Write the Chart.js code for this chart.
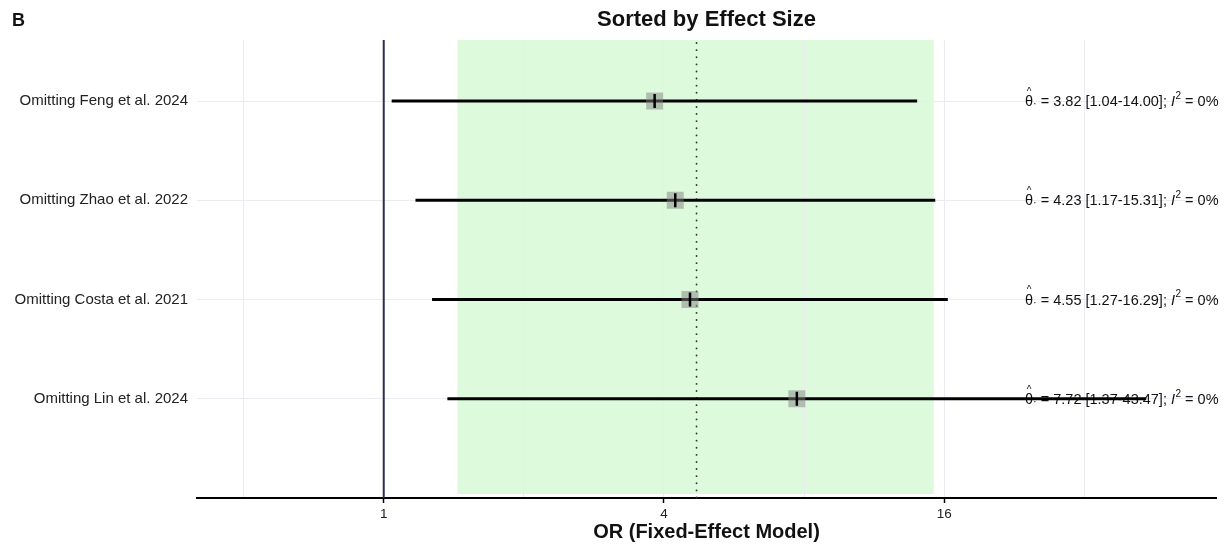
<!DOCTYPE html>
<html>
<head>
<meta charset="utf-8">
<script src="https://cdn.jsdelivr.net/npm/chart.js@4.4.1/dist/chart.umd.min.js"></script>
<style>
  html, body { margin: 0; padding: 0; background: #fff; }
  #wrap { width: 1228px; height: 544px; position: relative; }
</style>
</head>
<body>
<div id="wrap"><canvas id="c" width="1228" height="544"></canvas></div>
<script>
// Leave-one-out sensitivity analysis, rows listed top to bottom
const studies = [
  'Omitting Feng et al. 2024',
  'Omitting Zhao et al. 2022',
  'Omitting Costa et al. 2021',
  'Omitting Lin et al. 2024'
];
const estimates = [3.82, 4.23, 4.55, 7.72];
const lowerCI = [1.04, 1.17, 1.27, 1.37];
const upperCI = [14.00, 15.31, 16.29, 43.47];
const i2Values = [0, 0, 0, 0];

// Overall pooled estimate and its interval (shaded band + dotted line)
const pooledEstimate = 4.70;
const pooledLower = 1.44;
const pooledUpper = 15.2;

// Axis ticks
const labelledTicks = [1, 4, 16];
const gridTicks = [0.5, 1, 2, 4, 8, 16, 32];
const xMin = 0.397;
const xMax = 61.4;

const FONT = '"Liberation Sans", Arial, Helvetica, sans-serif';
const rowPos = studies.map((_, i) => studies.length - i);

const ciDatasets = studies.map((s, i) => ({
  type: 'line',
  label: s,
  data: [{ x: lowerCI[i], y: rowPos[i] }, { x: upperCI[i], y: rowPos[i] }],
  borderColor: '#000',
  borderWidth: 3,
  pointRadius: 0,
  order: 3
}));

const squareDataset = {
  type: 'scatter',
  label: 'estimate',
  data: estimates.map((v, i) => ({ x: v, y: rowPos[i] })),
  pointStyle: 'rect',
  pointRadius: 12,
  backgroundColor: 'rgba(130,130,130,0.5)',
  borderWidth: 0,
  order: 2
};

const tickDataset = {
  type: 'scatter',
  label: 'estimate mark',
  data: estimates.map((v, i) => ({ x: v, y: rowPos[i] })),
  pointStyle: 'line',
  rotation: 90,
  pointRadius: 7,
  borderColor: '#000',
  borderWidth: 2.5,
  order: 1
};

const fmt = v => v.toFixed(2);

const decorations = {
  id: 'decorations',
  beforeDraw(chart) {
    const { ctx, chartArea: a, scales: { x } } = chart;
    ctx.save();
    ctx.fillStyle = '#ffffff';
    ctx.fillRect(0, 0, chart.width, chart.height);
    // pooled interval band
    const x0 = x.getPixelForValue(pooledLower);
    const x1 = x.getPixelForValue(pooledUpper);
    ctx.fillStyle = 'rgba(144,238,144,0.30)';
    ctx.fillRect(x0, a.top, x1 - x0, a.bottom - a.top - 4);
    ctx.restore();
  },
  beforeDatasetsDraw(chart) {
    const { ctx, chartArea: a, scales: { x, y } } = chart;
    ctx.save();
    // line of no effect
    const xr = x.getPixelForValue(1);
    ctx.strokeStyle = '#2c2c5c';
    ctx.lineWidth = 2;
    ctx.beginPath();
    ctx.moveTo(xr, a.top);
    ctx.lineTo(xr, a.bottom);
    ctx.stroke();
    // pooled estimate
    const xp = x.getPixelForValue(pooledEstimate);
    ctx.strokeStyle = '#2a3a2a';
    ctx.lineWidth = 1.8;
    ctx.lineCap = 'round';
    ctx.setLineDash([0.1, 7]);
    ctx.beginPath();
    ctx.moveTo(xp, a.top + 3);
    ctx.lineTo(xp, a.bottom);
    ctx.stroke();
    ctx.setLineDash([]);

    // per-row summary text
    ctx.fillStyle = '#111';
    ctx.textBaseline = 'middle';
    ctx.textAlign = 'left';
    studies.forEach((s, i) => {
      const yy = y.getPixelForValue(rowPos[i]);
      let cx = 1025;
      ctx.font = '14.5px ' + FONT;
      ctx.fillText('\u03B8', cx, yy + 1);
      const thetaW = ctx.measureText('\u03B8').width;
      // hat
      ctx.font = '10px ' + FONT;
      ctx.textAlign = 'center';
      ctx.fillText('^', cx + thetaW / 2, yy - 9);
      ctx.textAlign = 'left';
      cx += thetaW;
      ctx.font = '11px ' + FONT;
      ctx.fillText('\u00B7', cx, yy + 3);
      cx += ctx.measureText('\u00B7').width;
      ctx.font = '14.5px ' + FONT;
      const main = ' = ' + fmt(estimates[i]) + ' [' + fmt(lowerCI[i]) + '-' + fmt(upperCI[i]) + ']; ';
      ctx.fillText(main, cx, yy + 1);
      cx += ctx.measureText(main).width;
      ctx.font = 'italic 14.5px ' + FONT;
      ctx.fillText('I', cx, yy + 1);
      cx += ctx.measureText('I').width + 0.5;
      ctx.font = '10px ' + FONT;
      ctx.fillText('2', cx, yy - 5);
      cx += ctx.measureText('2').width;
      ctx.font = '14.5px ' + FONT;
      ctx.fillText(' = ' + i2Values[i] + '%', cx, yy + 1);
    });
    ctx.restore();
  },
  afterDraw(chart) {
    const { ctx, chartArea: a } = chart;
    ctx.save();
    ctx.fillStyle = '#111';
    ctx.textBaseline = 'middle';
    ctx.font = 'bold 18px ' + FONT;
    ctx.textAlign = 'left';
    ctx.fillText('B', 12, 21);
    ctx.font = 'bold 22px ' + FONT;
    ctx.textAlign = 'center';
    ctx.fillText('Sorted by Effect Size', (a.left + a.right) / 2, 20);
    ctx.restore();
  }
};

new Chart(document.getElementById('c'), {
  type: 'scatter',
  data: { datasets: [...ciDatasets, squareDataset, tickDataset] },
  options: {
    responsive: false,
    animation: false,
    devicePixelRatio: 1,
    layout: { padding: { top: 40, right: 10, left: 0, bottom: 0 } },
    plugins: { legend: { display: false }, tooltip: { enabled: false }, title: { display: false } },
    scales: {
      x: {
        type: 'logarithmic',
        min: xMin,
        max: xMax,
        afterBuildTicks(scale) {
          scale.ticks = gridTicks.map(v => ({ value: v, major: false }));
        },
        afterFit(scale) { scale.height = 46; },
        ticks: {
          autoSkip: false,
          maxRotation: 0,
          padding: 3,
          color: '#222',
          font: { family: FONT, size: 13.5 },
          callback: v => (labelledTicks.includes(v) ? String(v) : '')
        },
        grid: {
          color: '#ebebf1',
          lineWidth: 1,
          tickLength: 5,
          tickColor: ctx => (ctx.tick && labelledTicks.includes(ctx.tick.value) ? '#000' : 'rgba(0,0,0,0)'),
          tickWidth: 1.5
        },
        border: { display: true, color: '#000', width: 2 },
        title: {
          display: true,
          text: 'OR (Fixed-Effect Model)',
          color: '#111',
          font: { family: FONT, size: 20, weight: 'bold' },
          padding: { top: 0, bottom: 0 }
        }
      },
      y: {
        type: 'linear',
        min: 0,
        max: 4.615,
        afterBuildTicks(scale) {
          scale.ticks = rowPos.slice().reverse().map(v => ({ value: v }));
        },
        afterFit(scale) { scale.width = 197; },
        ticks: {
          padding: 9,
          color: '#222',
          font: { family: FONT, size: 15 },
          callback: v => studies[studies.length - v]
        },
        grid: { color: '#ebebf1', lineWidth: 1, drawTicks: false },
        border: { display: false }
      }
    }
  },
  plugins: [decorations]
});
</script>
</body>
</html>
